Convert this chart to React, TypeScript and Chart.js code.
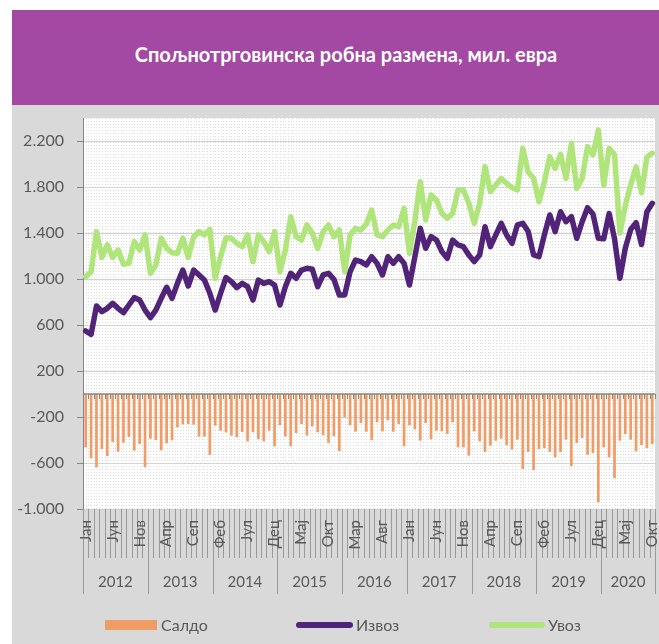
import React, { useEffect, useRef } from 'react';
import { Chart, registerables } from 'chart.js';

Chart.register(...registerables);

const monthNames = ['Јан', 'Феб', 'Мар', 'Апр', 'Мај', 'Јун', 'Јул', 'Авг', 'Сеп', 'Окт', 'Нов', 'Дец'];
const years = ['2012', '2013', '2014', '2015', '2016', '2017', '2018', '2019', '2020'];
const monthsInLastYear = 10;

const yTicks = [-1000, -600, -200, 200, 600, 1000, 1400, 1800, 2200];

const saldo = [
  -464, -560, -638, -478, -539, -417, -502, -423, -374, -493, -435, -638,
  -389, -400, -490, -429, -403, -290, -264, -261, -267, -371, -371, -530,
  -276, -319, -334, -362, -377, -330, -412, -332, -391, -412, -319, -455,
  -273, -368, -455, -339, -261, -362, -281, -333, -359, -426, -368, -496,
  -200, -273, -328, -252, -328, -403, -246, -325, -229, -328, -261, -455,
  -273, -307, -406, -252, -394, -319, -325, -348, -246, -464, -464, -536,
  -325, -412, -504, -449, -406, -388, -446, -484, -397, -652, -504, -661,
  -481, -470, -504, -551, -504, -397, -626, -426, -383, -528, -513, -942,
  -464, -551, -731, -406, -348, -397, -499, -444, -470, -435,
];

const izvoz = [
  548, 519, 765, 716, 745, 788, 745, 707, 774, 838, 817, 730,
  664, 730, 832, 928, 832, 962, 1078, 939, 1078, 1035, 991, 876,
  730, 876, 1013, 977, 925, 962, 933, 817, 991, 962, 977, 948,
  774, 933, 1049, 1006, 1078, 1093, 1085, 933, 1035, 1049, 997, 861,
  861, 1064, 1165, 1151, 1122, 1194, 1136, 1035, 1194, 1136, 1194, 1136,
  948, 1194, 1441, 1267, 1368, 1339, 1238, 1180, 1339, 1296, 1281, 1209,
  1151, 1209, 1455, 1281, 1383, 1484, 1383, 1310, 1470, 1484, 1412, 1209,
  1194, 1383, 1557, 1412, 1585, 1498, 1542, 1354, 1498, 1620, 1565, 1354,
  1350, 1570, 1350, 1006, 1270, 1430, 1490, 1300, 1585, 1658,
];

const uvoz = [
  1020, 1064, 1412, 1188, 1296, 1188, 1252, 1128, 1136, 1325, 1252, 1383,
  1049, 1122, 1354, 1267, 1229, 1223, 1354, 1188, 1368, 1412, 1383, 1432,
  1006, 1194, 1358, 1354, 1310, 1281, 1383, 1151, 1383, 1325, 1238, 1412,
  1064, 1252, 1542, 1368, 1339, 1470, 1397, 1267, 1412, 1470, 1368, 1426,
  1064, 1383, 1441, 1426, 1478, 1600, 1383, 1368, 1426, 1470, 1455, 1615,
  1223, 1510, 1846, 1513, 1730, 1687, 1571, 1528, 1571, 1774, 1774, 1658,
  1484, 1658, 1977, 1759, 1817, 1875, 1832, 1795, 1774, 2136, 1930, 1875,
  1672, 1846, 2064, 1962, 2084, 1875, 2180, 1788, 1875, 2151, 2078, 2296,
  1817, 2136, 2080, 1400, 1640, 1820, 1975, 1750, 2060, 2095,
];

const categories: string[] = [];
years.forEach((y, yi) => {
  const n = yi === years.length - 1 ? monthsInLastYear : 12;
  for (let m = 0; m < n; m++) categories.push(monthNames[m] + ' ' + y);
});

const TEXT = '#595959';
const AXIS = '#868686';
const FONT = 'Lato, "Open Sans", sans-serif';

const fmt = (v: number) => {
  const s = Math.abs(v).toString().replace(/\B(?=(\d{3})+(?!\d))/g, '.');
  return (v < 0 ? '-' : '') + s;
};

const decor = {
  id: 'decor',
  beforeDraw(chart: any) {
    const { ctx, chartArea: a } = chart;
    ctx.save();
    ctx.fillStyle = '#D9D9D9';
    ctx.fillRect(12, 105, 647, 539);
    ctx.fillStyle = '#FFFFFF';
    ctx.fillRect(a.left, a.top, a.right - a.left, a.bottom - a.top);
    ctx.restore();
  },
  beforeDatasetsDraw(chart: any) {
    const { ctx, chartArea: a, scales } = chart;
    const xs = scales.x;
    const step = xs.getPixelForValue(1) - xs.getPixelForValue(0);
    ctx.save();
    ctx.strokeStyle = '#DCDCDC';
    ctx.lineWidth = 1;
    ctx.setLineDash([1, 2]);
    for (let i = 0; i < categories.length; i++) {
      const c = xs.getPixelForValue(i);
      for (const x of [c - step / 2, c]) {
        const px = Math.round(x) + 0.5;
        if (px <= a.left + 1) continue;
        ctx.beginPath();
        ctx.moveTo(px, a.top);
        ctx.lineTo(px, a.bottom);
        ctx.stroke();
      }
    }
    ctx.restore();
  },
  afterDatasetsDraw(chart: any) {
    const { ctx, chartArea: a, scales } = chart;
    const xs = scales.x;
    const y0 = scales.y.getPixelForValue(0);
    const step = xs.getPixelForValue(1) - xs.getPixelForValue(0);
    ctx.save();
    ctx.strokeStyle = AXIS;
    ctx.lineWidth = 1.5;
    ctx.beginPath();
    ctx.moveTo(a.left, y0);
    ctx.lineTo(a.right, y0);
    ctx.stroke();
    ctx.lineWidth = 1;
    for (let i = 0; i <= categories.length; i++) {
      const x = Math.round(xs.getPixelForValue(i) - step / 2) + 0.5;
      ctx.beginPath();
      ctx.moveTo(x, y0);
      ctx.lineTo(x, y0 + 5);
      ctx.stroke();
    }
    ctx.restore();
  },
  afterDraw(chart: any) {
    const { ctx, chartArea: a, scales } = chart;
    const xs = scales.x;
    const step = xs.getPixelForValue(1) - xs.getPixelForValue(0);
    const bx = (k: number) => xs.getPixelForValue(k) - step / 2;
    ctx.save();
    // month dividers
    ctx.strokeStyle = '#9A9A9A';
    ctx.lineWidth = 1;
    for (let k = 0; k <= categories.length; k++) {
      const x = Math.round(bx(k)) + 0.5;
      const yearEdge = k % 12 === 0 || k === categories.length;
      ctx.beginPath();
      ctx.moveTo(x, a.bottom);
      ctx.lineTo(x, yearEdge ? a.bottom + 85 : a.bottom + 49);
      ctx.stroke();
    }
    // month labels
    ctx.fillStyle = TEXT;
    ctx.font = '15px ' + FONT;
    ctx.textAlign = 'right';
    ctx.textBaseline = 'middle';
    for (let i = 0; i < categories.length; i += 5) {
      const x = xs.getPixelForValue(i);
      ctx.save();
      ctx.translate(x, a.bottom + 11);
      ctx.rotate(-Math.PI / 2);
      ctx.fillText(categories[i].split(' ')[0], 0, 0);
      ctx.restore();
    }
    // year labels
    ctx.textAlign = 'center';
    ctx.font = '15px ' + FONT;
    years.forEach((y, yi) => {
      const k0 = yi * 12;
      const k1 = Math.min(k0 + 12, categories.length);
      ctx.fillText(y, (bx(k0) + bx(k1)) / 2, a.bottom + 73);
    });
    // legend
    const ly = 625;
    ctx.textAlign = 'left';
    ctx.font = '16px ' + FONT;
    ctx.fillStyle = '#F09C66';
    ctx.fillRect(105, ly - 5, 52, 10);
    ctx.fillStyle = TEXT;
    ctx.fillText('Салдо', 161, ly + 1);
    ctx.lineCap = 'round';
    ctx.lineWidth = 6;
    ctx.strokeStyle = '#522479';
    ctx.beginPath();
    ctx.moveTo(299, ly);
    ctx.lineTo(350, ly);
    ctx.stroke();
    ctx.fillText('Извоз', 356, ly + 1);
    ctx.strokeStyle = '#B0E57C';
    ctx.beginPath();
    ctx.moveTo(492, ly);
    ctx.lineTo(542, ly);
    ctx.stroke();
    ctx.fillText('Увоз', 548, ly + 1);
    ctx.restore();
  },
};

export default function App() {
  const ref = useRef<HTMLCanvasElement | null>(null);

  useEffect(() => {
    if (!ref.current) return;
    Chart.defaults.font.family = FONT;
    const chart = new Chart(ref.current, {
      type: 'bar',
      data: {
        labels: categories,
        datasets: [
          {
            type: 'line',
            label: 'Увоз',
            data: uvoz,
            borderColor: '#B0E57C',
            backgroundColor: '#B0E57C',
            borderWidth: 5.5,
            pointRadius: 0,
            tension: 0,
            borderCapStyle: 'round',
            borderJoinStyle: 'round',
            order: 0,
          },
          {
            type: 'line',
            label: 'Извоз',
            data: izvoz,
            borderColor: '#522479',
            backgroundColor: '#522479',
            borderWidth: 5.5,
            pointRadius: 0,
            tension: 0,
            borderCapStyle: 'round',
            borderJoinStyle: 'round',
            order: 1,
          },
          {
            type: 'bar',
            label: 'Салдо',
            data: saldo,
            backgroundColor: '#F09C66',
            barPercentage: 0.5,
            categoryPercentage: 1,
            order: 2,
          },
        ],
      },
      options: {
        responsive: false,
        animation: false,
        layout: { padding: { top: 118, right: 4, bottom: 135, left: 0 } },
        plugins: {
          legend: { display: false },
          tooltip: { enabled: false },
          title: { display: false },
        },
        scales: {
          x: {
            type: 'category',
            display: false,
            offset: true,
          },
          y: {
            min: -1000,
            max: 2400,
            afterFit: (s: any) => {
              s.width = 83;
            },
            afterBuildTicks: (s: any) => {
              s.ticks = yTicks.map((v) => ({ value: v }));
            },
            ticks: {
              color: TEXT,
              font: { size: 16, family: FONT },
              padding: 13,
              callback: (v: any) => fmt(Number(v)),
            },
            grid: {
              color: '#D0D0D0',
              lineWidth: 1,
              tickLength: 6,
              tickColor: AXIS,
            },
            border: { display: true, color: AXIS, width: 1 },
          },
        },
      },
      plugins: [decor],
    });
    return () => chart.destroy();
  }, []);

  return (
    <div style={{ position: 'absolute', left: 0, top: 0, width: 659, height: 644, background: '#FFFFFF' }}>
      <canvas
        ref={ref}
        width={659}
        height={644}
        style={{ position: 'absolute', left: 0, top: 0, display: 'block' }}
      />
      <div
        style={{
          position: 'absolute',
          left: 12,
          top: 10,
          width: 647,
          height: 95,
          background: '#A349A4',
          color: '#FFFFFF',
          fontFamily: FONT,
          fontWeight: 700,
          fontSize: 20,
          display: 'flex',
          alignItems: 'center',
          justifyContent: 'center',
          paddingLeft: 21,
          paddingBottom: 8,
          boxSizing: 'border-box',
        }}
      >
        Спољнотрговинска робна размена, мил. евра
      </div>
    </div>
  );
}
